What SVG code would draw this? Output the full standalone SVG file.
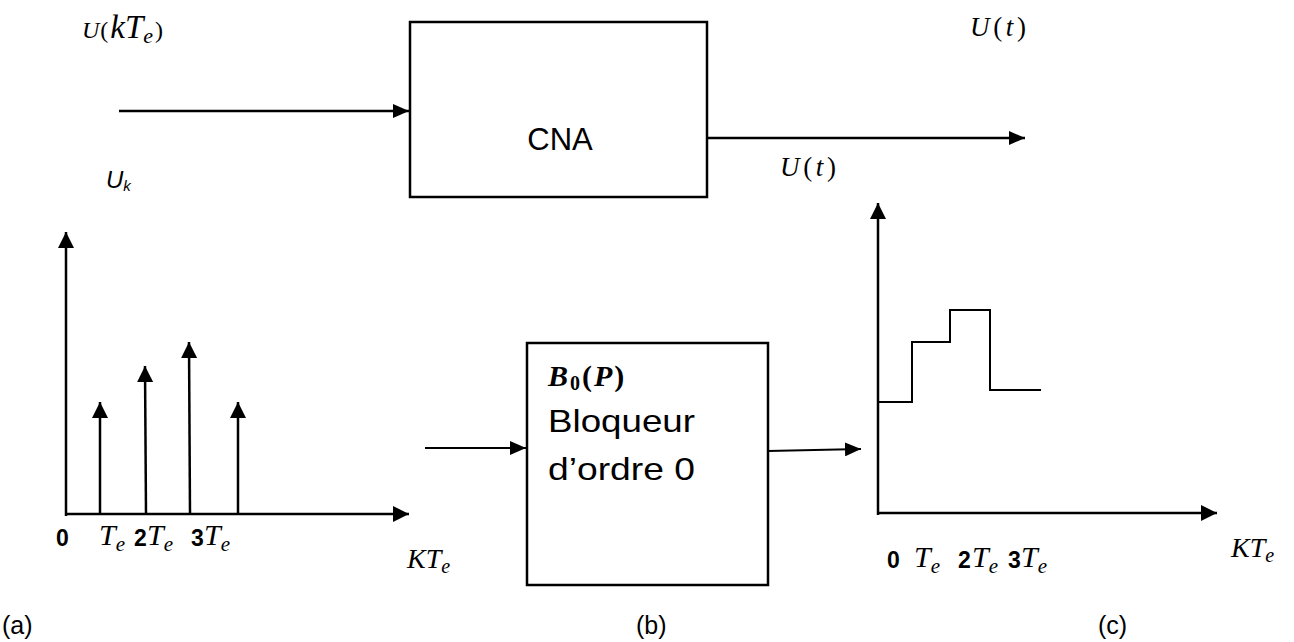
<svg xmlns="http://www.w3.org/2000/svg" width="1294" height="642" viewBox="0 0 1294 642">
<style>
.ln{stroke:#000;stroke-width:2.5;fill:none}
.thin{stroke:#000;stroke-width:2;fill:none}
.box{stroke:#000;stroke-width:2.5;fill:#fff}
.math{font-family:"Liberation Serif","DejaVu Serif",serif;font-style:italic;fill:#000}
.sans{font-family:"Liberation Sans",Arial,sans-serif;fill:#000}
.bold{font-family:"Liberation Sans",Arial,sans-serif;font-weight:bold;fill:#000}
</style>
<defs>
<marker id="ah" markerUnits="userSpaceOnUse" markerWidth="16" markerHeight="14" refX="16" refY="7" orient="auto">
<path d="M0,0 L16,7 L0,14 z" fill="#000"/>
</marker>
<marker id="ah2" markerUnits="userSpaceOnUse" markerWidth="16" markerHeight="16" refX="16" refY="8" orient="auto">
<path d="M0,0 L16,8 L0,16 z" fill="#000"/>
</marker>
</defs>

<g id="connectors">
<line class="ln" x1="119" y1="111" x2="409" y2="111" marker-end="url(#ah)"/>
<line class="ln" x1="707" y1="138" x2="1025" y2="138" marker-end="url(#ah)"/>
<line class="thin" x1="425" y1="448" x2="526" y2="448" marker-end="url(#ah)"/>
<line class="thin" x1="768" y1="451" x2="861" y2="449" marker-end="url(#ah)"/>
</g>

<g id="node-cna">
<rect class="box" x="410" y="22" width="297" height="175"/>
<text class="sans" x="560" y="150" font-size="31" text-anchor="middle">CNA</text>
</g>

<g id="node-bloqueur">
<rect class="box" x="527" y="343" width="241" height="242"/>
<text class="math" x="548" y="386" font-size="30" font-weight="bold" letter-spacing="2">B<tspan font-size="20" dy="4" font-style="normal">0</tspan><tspan dy="-4" font-style="normal">(</tspan>P<tspan font-style="normal">)</tspan></text>
<text class="sans" x="548" y="432" font-size="32" textLength="147" lengthAdjust="spacingAndGlyphs">Bloqueur</text>
<text class="sans" x="548" y="480" font-size="32" textLength="147" lengthAdjust="spacingAndGlyphs">d’ordre 0</text>
</g>

<g id="labels-top">
<text class="math" x="82" y="38" font-size="24">U<tspan font-style="normal" dx="1">(</tspan><tspan font-size="33" dx="2">kT</tspan><tspan font-size="22" dy="5">e</tspan><tspan dy="-5" font-style="normal" dx="2">)</tspan></text>
<text class="math" x="970" y="36" font-size="27" textLength="56" lengthAdjust="spacing">U<tspan font-style="normal">(</tspan>t<tspan font-style="normal">)</tspan></text>
<text class="math" x="780" y="176" font-size="27" textLength="56" lengthAdjust="spacing">U<tspan font-style="normal">(</tspan>t<tspan font-style="normal">)</tspan></text>
</g>

<g id="graph-a">
<line class="ln" x1="66" y1="516" x2="66" y2="232" marker-end="url(#ah2)"/>
<line class="ln" x1="65" y1="514" x2="409" y2="514" marker-end="url(#ah2)"/>
<line class="ln" x1="100" y1="514" x2="100" y2="402" marker-end="url(#ah2)"/>
<line class="ln" x1="146" y1="514" x2="145" y2="366" marker-end="url(#ah2)"/>
<line class="ln" x1="190" y1="514" x2="189" y2="342" marker-end="url(#ah2)"/>
<line class="ln" x1="238" y1="514" x2="238" y2="402" marker-end="url(#ah2)"/>
<text class="sans" x="106" y="188" font-size="24" font-style="italic">U<tspan font-size="15" dy="3">k</tspan></text>
<text class="bold" x="56" y="546" font-size="23">0</text>
<text class="math" x="99" y="545" font-size="30">T<tspan font-size="21" dy="6">e</tspan></text>
<text class="bold" x="134" y="546" font-size="23">2</text>
<text class="math" x="147" y="545" font-size="30">T<tspan font-size="21" dy="6">e</tspan></text>
<text class="bold" x="191" y="546" font-size="23">3</text>
<text class="math" x="204" y="545" font-size="30">T<tspan font-size="21" dy="6">e</tspan></text>
<text class="math" x="407" y="568" font-size="28">KT<tspan font-size="20" dy="5">e</tspan></text>
</g>

<g id="graph-c">
<line class="ln" x1="878" y1="515" x2="878" y2="203" marker-end="url(#ah2)"/>
<line class="ln" x1="877" y1="513" x2="1217" y2="513" marker-end="url(#ah2)"/>
<polyline class="thin" points="878,402 912,402 912,342 950,342 950,310 990,310 990,390 1041,390"/>
<text class="bold" x="887" y="568" font-size="23">0</text>
<text class="math" x="914" y="567" font-size="30">T<tspan font-size="21" dy="6">e</tspan></text>
<text class="bold" x="958" y="568" font-size="23">2</text>
<text class="math" x="972" y="567" font-size="30">T<tspan font-size="21" dy="6">e</tspan></text>
<text class="bold" x="1008" y="568" font-size="23">3</text>
<text class="math" x="1021" y="567" font-size="30">T<tspan font-size="21" dy="6">e</tspan></text>
<text class="math" x="1231" y="557" font-size="28">KT<tspan font-size="20" dy="5">e</tspan></text>
</g>

<g id="captions">
<text class="sans" x="2" y="634" font-size="25">(a)</text>
<text class="sans" x="636" y="634" font-size="25">(b)</text>
<text class="sans" x="1098" y="634" font-size="25">(c)</text>
</g>
</svg>
